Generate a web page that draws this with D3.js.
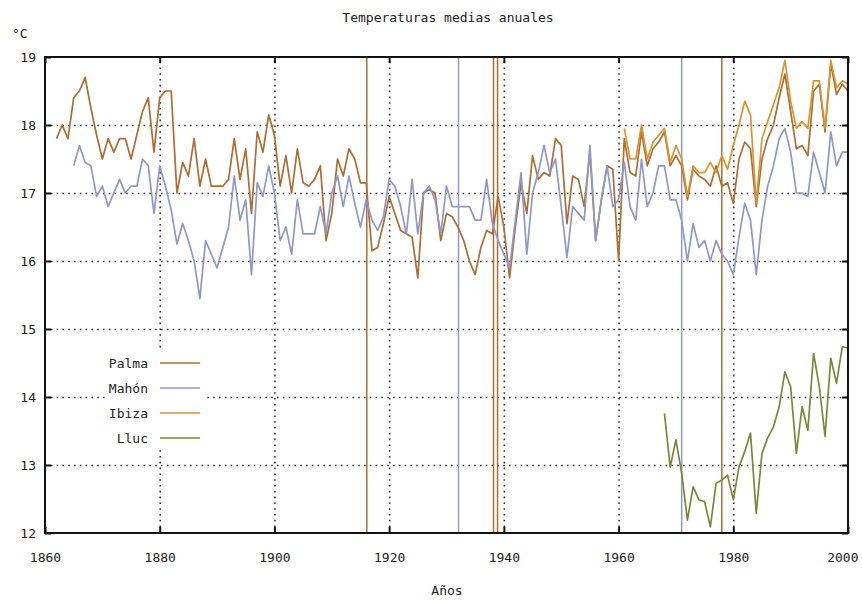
<!DOCTYPE html>
<html lang="es">
<head>
<meta charset="utf-8">
<title>Temperaturas medias anuales</title>
<style>
  body { margin: 0; background: #fff; }
  svg { display: block; }
  text { font-family: "DejaVu Sans Mono", monospace; font-size: 13px; fill: #222; }
  .grid line { stroke: #333; stroke-width: 1.6; stroke-dasharray: 1.6 4.2; }
  .grid path, .ticks path { display: none; }
  .ticks line { stroke: #111; stroke-width: 2; }
  .serie { fill: none; stroke-width: 1.7; stroke-linejoin: round; }
</style>
</head>
<body>
<svg width="862" height="600"></svg>
<script src="https://d3js.org/d3.v7.min.js"></script>
<script>
  // series, one value per year from the given start year
  const anioPalma = 1862;
  const palma = [
    17.8, 18.0, 17.8, 18.4, 18.5, 18.7, 18.25, 17.85,
    17.5, 17.8, 17.6, 17.8, 17.8, 17.5, 17.85, 18.2, 18.4, 17.6,
    18.4, 18.5, 18.5, 17.0, 17.45, 17.25, 17.8, 17.1, 17.5, 17.1,
    17.1, 17.1, 17.2, 17.8, 17.2, 17.65, 16.7, 17.9, 17.6, 18.15,
    17.85, 17.1, 17.55, 17.0, 17.65, 17.15, 17.1, 17.2, 17.4, 16.3,
    16.7, 17.5, 17.25, 17.65, 17.5, 17.15, 17.15, 16.15, 16.2, 16.55,
    16.95, 16.7, 16.45, 16.4, 16.35, 15.75, 17.0, 17.05, 17.0, 16.3,
    16.7, 16.65, 16.5, 16.3, 16.0, 15.8, 16.2, 16.45, 16.4, 16.95,
    16.5, 15.75, 16.5, 17.15, 16.7, 17.55, 17.2, 17.3, 17.25, 17.8,
    17.7, 16.55, 17.25, 17.2, 16.8, 17.6, 16.3, 16.9, 17.4, 17.35,
    16.0, 17.8, 17.3, 17.25, 17.9, 17.4, 17.65, 17.75, 17.9, 17.4,
    17.55, 17.4, 16.9, 17.35, 17.25, 17.2, 17.1, 17.4, 17.1, 17.15,
    16.85, 17.5, 17.75, 17.65, 16.8, 17.5, 17.8, 18.0, 18.4, 18.75,
    18.2, 17.65, 17.7, 17.55, 18.5, 18.6, 17.9, 18.9, 18.45, 18.6, 18.5
  ];

  const anioMahon = 1865;
  const mahon = [
    17.4, 17.7, 17.45, 17.4, 16.95,
    17.1, 16.8, 17.0, 17.2, 17.0, 17.1, 17.1, 17.5, 17.4, 16.7,
    17.4, 17.1, 16.75, 16.25, 16.55, 16.3, 16.0, 15.45, 16.3, 16.1,
    15.9, 16.2, 16.5, 17.25, 16.6, 16.9, 15.8, 17.15, 16.95, 17.4,
    17.0, 16.3, 16.5, 16.1, 16.9, 16.4, 16.4, 16.4, 16.8, 16.4,
    17.0, 17.25, 16.8, 17.25, 16.85, 16.5, 16.9, 16.6, 16.45, 16.65,
    17.2, 17.1, 16.8, 16.4, 17.2, 16.4, 17.0, 17.1, 16.9, 16.4,
    17.1, 16.8, 16.8, 16.8, 16.8, 16.6, 16.6, 17.2, 16.55, 16.3,
    16.1, 15.9, 16.6, 17.3, 16.1, 17.0, 17.3, 17.7, 17.3, 17.5,
    16.8, 16.05, 16.8, 16.7, 16.6, 17.7, 16.3, 16.9, 17.4, 16.8,
    16.9, 17.45, 16.8, 16.6, 17.5, 16.8, 17.0, 17.4, 17.4, 16.9,
    16.9, 16.6, 16.0, 16.55, 16.2, 16.3, 16.0, 16.3, 16.1, 16.0,
    15.8, 16.35, 16.85, 16.6, 15.8, 16.6, 17.1, 17.4, 17.8, 17.95,
    17.6, 17.0, 17.0, 16.95, 17.6, 17.3, 17.0, 17.9, 17.4, 17.6, 17.6
  ];

  const anioIbiza = 1961;
  const ibiza = [
    17.95, 17.5, 17.5, 18.0, 17.5, 17.75, 17.85, 17.95, 17.45,
    17.7, 17.5, 16.95, 17.4, 17.3, 17.3, 17.45, 17.3, 17.55, 17.35,
    17.7, 18.0, 18.35, 18.15, 16.85, 17.8, 18.05, 18.3, 18.55, 18.95,
    18.35, 17.95, 18.05, 17.95, 18.65, 18.65, 17.95, 18.95, 18.55, 18.65, 18.6
  ];

  const anioLluc = 1968;
  const lluc = [
    13.76, 12.97,
    13.37, 12.88, 12.19, 12.68, 12.49, 12.46, 12.09, 12.73, 12.78, 12.85,
    12.49, 12.97, 13.2, 13.47, 12.29, 13.17, 13.4, 13.56, 13.86, 14.37,
    14.15, 13.17, 13.86, 13.51, 14.64, 14.15, 13.42, 14.57, 14.2, 14.74, 14.72
  ];

  // vertical lines drawn across the plot (year, station)
  const cambios = [
    {anio: 1916.1, serie: "Palma"},
    {anio: 1932.1, serie: "Mahón"},
    {anio: 1938.2, serie: "Palma"},
    {anio: 1938.9, serie: "Palma"},
    {anio: 1971.0, serie: "Mahón"},
    {anio: 1978.0, serie: "Palma"}
  ];

  const estaciones = ["Palma", "Mahón", "Ibiza", "Lluc"];
  const colores = ["#ad6d33", "#8e98cb", "#d8952f", "#7c873a"];
  const xTicks = [1860, 1880, 1900, 1920, 1940, 1960, 1980, 2000];
  const yTicks = [12, 13, 14, 15, 16, 17, 18, 19];

  const margin = {top: 57, right: 14, bottom: 67, left: 45};
  const svg = d3.select("svg");
  const width = +svg.attr("width") - margin.left - margin.right;
  const height = +svg.attr("height") - margin.top - margin.bottom;

  svg.append("rect").attr("width", 862).attr("height", 600).attr("fill", "#fff");

  const vis = svg.append("g")
    .attr("transform", `translate(${margin.left},${margin.top})`);

  const x = d3.scaleLinear().domain([1860, 2000]).range([0, width]);
  const y = d3.scaleLinear().domain([12, 19]).range([height, 0]);
  const color = d3.scaleOrdinal().domain(estaciones).range(colores);

  // dotted grid, inner lines only
  vis.append("g").attr("class", "grid")
    .attr("transform", `translate(0,${height})`)
    .call(d3.axisBottom(x).tickValues(xTicks.slice(1, -1)).tickSize(-height).tickFormat(""));
  vis.append("g").attr("class", "grid")
    .call(d3.axisLeft(y).tickValues(yTicks.slice(1, -1)).tickSize(-width).tickFormat(""));

  const series = [
    {name: "Palma", start: anioPalma, values: palma},
    {name: "Mahón", start: anioMahon, values: mahon},
    {name: "Ibiza", start: anioIbiza, values: ibiza},
    {name: "Lluc", start: anioLluc, values: lluc}
  ];

  const line = d3.line()
    .x(d => x(d.anio))
    .y(d => y(d.t));

  const plot = vis.append("g");

  // legend background covers the grid
  const legend = vis.append("g").attr("transform", "translate(60,294)");
  legend.append("rect")
    .attr("x", 0).attr("y", 0)
    .attr("width", 102).attr("height", 96)
    .attr("fill", "#fff");

  // vertical markers
  plot.selectAll("line.cambio")
    .data(cambios)
    .enter().append("line")
    .attr("class", "cambio")
    .attr("x1", d => x(d.anio)).attr("x2", d => x(d.anio))
    .attr("y1", 0).attr("y2", height)
    .attr("stroke", d => color(d.serie))
    .attr("stroke-width", 1.5);

  plot.selectAll("path.serie")
    .data(series)
    .enter().append("path")
    .attr("class", "serie")
    .attr("stroke", d => color(d.name))
    .attr("d", d => line(d.values.map((t, i) => ({anio: d.start + i, t: t}))));

  // legend entries
  estaciones.forEach(function(name, i) {
    const ly = 12 + i * 25;
    legend.append("text")
      .attr("x", 43).attr("y", ly)
      .attr("dy", "0.35em")
      .attr("text-anchor", "end")
      .text(name);
    legend.append("line")
      .attr("x1", 55).attr("x2", 95)
      .attr("y1", ly).attr("y2", ly)
      .attr("stroke", color(name))
      .attr("stroke-width", 1.7);
  });

  // axes with inward ticks on all four sides
  const bottom = vis.append("g").attr("class", "ticks")
    .attr("transform", `translate(0,${height})`)
    .call(d3.axisBottom(x).tickValues(xTicks).tickSize(-6).tickPadding(20).tickFormat(d3.format("d")));
  // keep the last label inside the picture
  bottom.selectAll(".tick text")
    .filter(d => d === 2000)
    .attr("text-anchor", "end")
    .attr("x", 10);
  vis.append("g").attr("class", "ticks")
    .call(d3.axisTop(x).tickValues(xTicks).tickSize(-6).tickFormat(""));
  vis.append("g").attr("class", "ticks")
    .call(d3.axisLeft(y).tickValues(yTicks).tickSize(-6).tickPadding(9).tickFormat(d3.format("d")));
  vis.append("g").attr("class", "ticks")
    .attr("transform", `translate(${width},0)`)
    .call(d3.axisRight(y).tickValues(yTicks).tickSize(-6).tickFormat(""));

  vis.selectAll(".ticks text")
    .attr("font-family", null)
    .attr("font-size", null)
    .attr("fill", null);

  // frame
  vis.append("rect")
    .attr("width", width).attr("height", height)
    .attr("fill", "none")
    .attr("stroke", "#111")
    .attr("stroke-width", 2);

  svg.append("text")
    .attr("x", 448).attr("y", 22)
    .attr("text-anchor", "middle")
    .text("Temperaturas medias anuales");

  svg.append("text")
    .attr("x", 12).attr("y", 38)
    .text("°C");

  svg.append("text")
    .attr("x", 447).attr("y", 595)
    .attr("text-anchor", "middle")
    .text("Años");
</script>
</body>
</html>
